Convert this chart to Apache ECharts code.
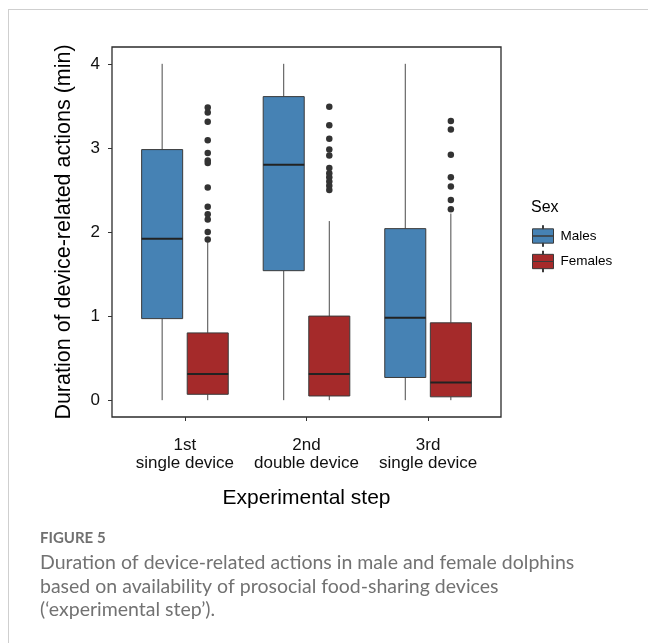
<!DOCTYPE html>
<html>
<head>
<meta charset="utf-8">
<script src="https://cdn.jsdelivr.net/npm/echarts@6/dist/echarts.min.js"></script>
<style>
  html, body { margin: 0; padding: 0; background: #fff; }
  #frame { position: absolute; left: 8px; top: 9px; width: 700px; height: 700px;
           border: 1px solid #cfcfcf; box-sizing: border-box; }
  #chart { position: absolute; left: 0; top: 0; width: 648px; height: 643px; }
</style>
</head>
<body>
<div id="frame"></div>
<div id="chart"></div>
<script>
// Experimental steps (x categories)
const steps = ['1st\nsingle device', '2nd\ndouble device', '3rd\nsingle device'];
const sexes = ['Males', 'Females'];
const yTicks = [0, 1, 2, 3, 4];

// Box statistics per step: [lower whisker, Q1, median, Q3, upper whisker] (min)
const malesBox = [
  [0.00, 0.97, 1.92, 2.98, 4.00],
  [0.00, 1.54, 2.80, 3.61, 4.00],
  [0.00, 0.27, 0.98, 2.04, 4.00]
];
const femalesBox = [
  [0.00, 0.07, 0.31, 0.80, 1.88],
  [0.00, 0.05, 0.31, 1.00, 2.13],
  [0.00, 0.04, 0.21, 0.92, 2.22]
];

// Outlying observations per step
const malesOutliers = [[], [], []];
const femalesOutliers = [
  [3.48, 3.42, 3.31, 3.09, 2.94, 2.85, 2.82, 2.53, 2.30, 2.21, 2.15, 2.00, 1.91],
  [3.49, 3.27, 3.11, 2.98, 2.91, 2.76, 2.70, 2.65, 2.60, 2.55, 2.50],
  [3.32, 3.22, 2.92, 2.65, 2.54, 2.38, 2.27]
];

const fills = ['#4682B4', '#A52A2A'];
const dodge = [-0.1875, 0.1875];
const boxWidth = 0.3375;
const ink = '#333333';
const chartFont = '"Liberation Sans", Arial, sans-serif';

function boxSeries(name, stats, k) {
  return {
    name: name,
    type: 'custom',
    itemStyle: { color: fills[k], borderColor: ink, borderWidth: 1 },
    data: stats.map((s, i) => [i].concat(s)),
    encode: { x: 0, y: [1, 2, 3, 4, 5] },
    z: 3,
    renderItem: function (params, api) {
      const xc = api.value(0) + 1 + dodge[k];
      const w = api.size([boxWidth, 0])[0];
      const lo = api.coord([xc, api.value(1)]);
      const q1 = api.coord([xc, api.value(2)]);
      const md = api.coord([xc, api.value(3)]);
      const q3 = api.coord([xc, api.value(4)]);
      const hi = api.coord([xc, api.value(5)]);
      const x0 = lo[0] - w / 2;
      return {
        type: 'group',
        children: [
          { type: 'line', shape: { x1: lo[0], y1: lo[1], x2: q1[0], y2: q1[1] },
            style: { stroke: '#4a4a4a', lineWidth: 1 } },
          { type: 'line', shape: { x1: q3[0], y1: q3[1], x2: hi[0], y2: hi[1] },
            style: { stroke: '#4a4a4a', lineWidth: 1 } },
          { type: 'rect', shape: { x: x0, y: q3[1], width: w, height: q1[1] - q3[1] },
            style: { fill: fills[k], stroke: '#3a3a3a', lineWidth: 1 } },
          { type: 'line', shape: { x1: x0, y1: md[1], x2: x0 + w, y2: md[1] },
            style: { stroke: '#222', lineWidth: 2 } }
        ]
      };
    }
  };
}

function outlierSeries(name, lists, k) {
  const pts = [];
  lists.forEach((vals, i) => vals.forEach(v => pts.push([i + 1 + dodge[k], v])));
  return {
    name: name + ' outliers',
    type: 'scatter',
    symbol: 'circle',
    symbolSize: 6.5,
    itemStyle: { color: ink, opacity: 1 },
    data: pts,
    z: 4
  };
}

// Mini box-and-whisker glyph for legend keys
const boxIcon = 'path://M10.5,0 h1 v3.5 h-1 Z M0,3.5 h22 v7.5 h-22 Z M0,11 h22 v7.5 h-22 Z M10.5,18.5 h1 v3.5 h-1 Z';

const chart = echarts.init(document.getElementById('chart'), null, { renderer: 'canvas' });
chart.setOption({
  animation: false,
  backgroundColor: 'transparent',
  textStyle: { fontFamily: chartFont },
  grid: {
    left: 112, top: 47, width: 389, height: 370,
    show: true, borderColor: '#2b2b2b', borderWidth: 1.3, backgroundColor: '#fff'
  },
  xAxis: {
    type: 'value', min: 0.4, max: 3.6,
    name: 'Experimental step', nameLocation: 'middle', nameGap: 71,
    nameTextStyle: { fontSize: 21, color: '#000', fontFamily: chartFont },
    axisLine: { show: false, onZero: false },
    splitLine: { show: false },
    axisTick: { show: true, length: 4, lineStyle: { color: ink }, customValues: [1, 2, 3] },
    axisLabel: {
      customValues: [1, 2, 3], margin: 19, fontSize: 17, lineHeight: 18.5,
      color: '#111', fontFamily: chartFont,
      formatter: v => steps[Math.round(v) - 1] || ''
    }
  },
  yAxis: {
    type: 'value', min: -0.2, max: 4.2,
    name: 'Duration of device-related actions (min)', nameLocation: 'middle',
    nameRotate: 90, nameGap: 37,
    nameTextStyle: { fontSize: 21.5, color: '#000', fontFamily: chartFont },
    axisLine: { show: false, onZero: false },
    splitLine: { show: false },
    axisTick: { show: true, length: 4, lineStyle: { color: ink }, customValues: yTicks },
    axisLabel: { customValues: yTicks, margin: 12, fontSize: 17, color: '#111', fontFamily: chartFont }
  },
  title: [
    { text: 'Sex', left: 526, top: 195,
      textStyle: { fontSize: 16, fontWeight: 'normal', color: '#000', fontFamily: chartFont } },
    { text: 'FIGURE 5', left: 35, top: 526,
      textStyle: { fontSize: 15, fontWeight: 'bold', color: '#707070', fontFamily: 'Lato, sans-serif' } },
    { text: 'Duration of device-related actions in male and female dolphins\nbased on availability of prosocial food-sharing devices\n(\u2018experimental step\u2019).',
      left: 35, top: 546,
      textStyle: { fontSize: 19.5, fontWeight: 'normal', color: '#727272', lineHeight: 23.5, fontFamily: 'Lato, sans-serif' } }
  ],
  legend: {
    orient: 'vertical', left: 527, top: 220,
    itemWidth: 21, itemHeight: 22, itemGap: 3.5,
    icon: boxIcon,
    data: sexes.map((s, k) => ({
      name: s,
      itemStyle: { color: fills[k], borderColor: '#3a3a3a', borderWidth: 1 }
    })),
    textStyle: { fontSize: 13.5, color: '#000', fontFamily: chartFont, padding: [0, 0, 0, 2] }
  },
  series: [
    boxSeries('Males', malesBox, 0),
    boxSeries('Females', femalesBox, 1),
    outlierSeries('Males', malesOutliers, 0),
    outlierSeries('Females', femalesOutliers, 1)
  ]
});
</script>
</body>
</html>
